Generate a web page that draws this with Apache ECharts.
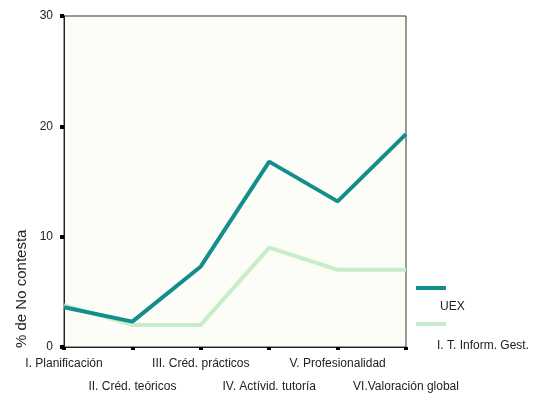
<!DOCTYPE html>
<html><head><meta charset="utf-8">
<script src="https://cdn.jsdelivr.net/npm/echarts@6/dist/echarts.min.js"></script>
<style>html,body{margin:0;padding:0;background:#fff}#c{width:553px;height:398px}</style>
</head><body><div id="c"></div>
<script>
const categories = ['I. Planificación','II. Créd. teóricos','III. Créd. prácticos','IV. Actívid. tutoría','V. Profesionalidad','VI.Valoración global'];
const seriesNames = ['UEX','I. T. Inform. Gest.'];
const uexValues = [3.6, 2.3, 7.3, 16.8, 13.2, 19.3];
const itigValues = [3.8, 2.0, 2.0, 9.0, 7.0, 7.0];
const yTicks = [0, 10, 20, 30];
const yAxisTitle = '% de No contesta';
const colors = ['#138e8c', '#c9ecc9'];

const chart = echarts.init(document.getElementById('c'));
const font = 'Liberation Sans, Arial, sans-serif';
chart.setOption({
  animation: false,
  backgroundColor: '#ffffff',
  grid: {left: 64, right: 147, top: 16, bottom: 45, show: true, backgroundColor: '#fdfdf7', borderColor: '#333', borderWidth: 1},
  xAxis: {
    type: 'category', data: categories, boundaryGap: false,
    axisLine: {lineStyle: {color: '#222', width: 1}},
    axisTick: {alignWithLabel: true, length: 3, lineStyle: {color: '#000', width: 4}},
    axisLabel: {interval: 0, margin: 5, fontFamily: font, fontSize: 12, color: '#222', lineHeight: 23,
      formatter: (v, i) => (i % 2 === 1 ? '\n' + v : v)}
  },
  yAxis: {
    type: 'value', min: yTicks[0], max: yTicks[yTicks.length - 1], interval: 10,
    splitLine: {show: false},
    axisLine: {show: true, lineStyle: {color: '#222', width: 1}},
    axisTick: {show: true, length: 4, lineStyle: {color: '#000', width: 4}},
    axisLabel: {margin: 11, fontFamily: font, fontSize: 12, color: '#222'}
  },
  series: [
    {name: seriesNames[0], type: 'line', data: uexValues, symbol: 'none', lineStyle: {color: colors[0], width: 4}, z: 3},
    {name: seriesNames[1], type: 'line', data: itigValues, symbol: 'none', lineStyle: {color: colors[1], width: 4}, z: 2}
  ],
  graphic: [
    {type: 'text', rotation: Math.PI / 2, x: 14, y: 348,
      style: {text: yAxisTitle, font: '15px ' + font, fill: '#222'}},
    {type: 'line', shape: {x1: 416, y1: 288, x2: 446, y2: 288}, style: {stroke: colors[0], lineWidth: 4}},
    {type: 'text', x: 440, y: 307, style: {text: seriesNames[0], font: '12px ' + font, fill: '#222', textVerticalAlign: 'middle'}},
    {type: 'line', shape: {x1: 416, y1: 324, x2: 446, y2: 324}, style: {stroke: colors[1], lineWidth: 4}},
    {type: 'text', x: 437, y: 346, style: {text: seriesNames[1], font: '12px ' + font, fill: '#222', textVerticalAlign: 'middle'}}
  ]
});
</script></body></html>
